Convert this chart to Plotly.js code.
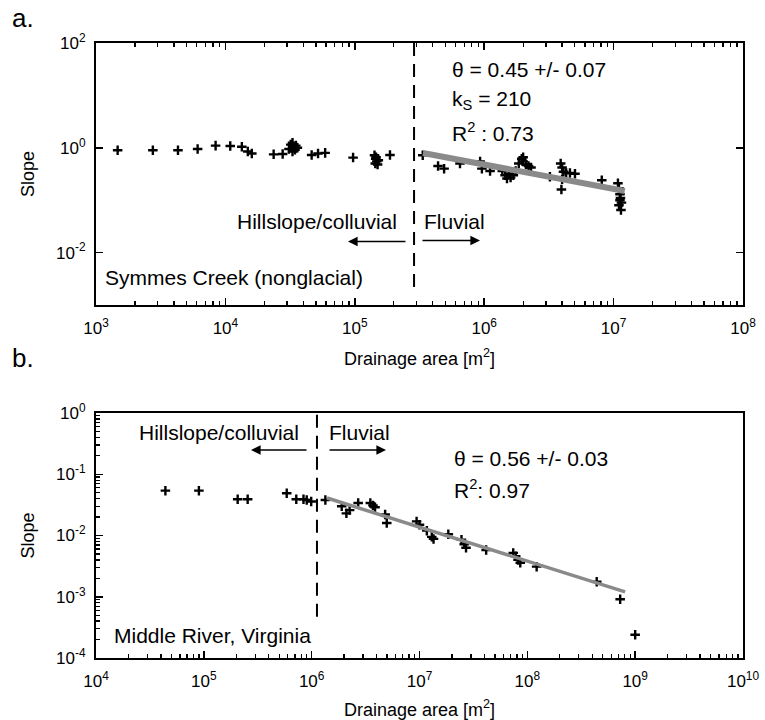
<!DOCTYPE html>
<html>
<head>
<meta charset="utf-8">
<script src="https://cdn.plot.ly/plotly-3.0.1.min.js"></script>
<style>html,body{margin:0;padding:0;background:#fff;}#chart{width:765px;height:720px;}</style>
</head>
<body>
<div id="chart"></div>
<script>
// ---- Panel a: Symmes Creek (nonglacial) ----
const symmesArea = [
  1.47e3, 2.75e3, 4.3e3, 6.1e3, 8.4e3, 1.09e4, 1.34e4, 1.49e4, 1.6e4, 2.36e4, 2.77e4,
  3.1e4, 3.2e4, 3.3e4, 3.35e4, 3.45e4, 3.5e4, 3.6e4, 3.3e4,
  4.64e4, 5.2e4, 5.9e4, 9.7e4,
  1.42e5, 1.45e5, 1.48e5, 1.5e5, 1.46e5, 1.52e5, 1.44e5, 1.87e5,
  3.35e5, 4.4e5, 4.9e5, 6.5e5, 9.3e5, 9.6e5, 1.11e6,
  1.38e6, 1.45e6, 1.5e6, 1.55e6, 1.6e6, 1.68e6, 1.75e6,
  1.85e6, 1.95e6, 2.0e6, 2.1e6, 2.2e6, 2.3e6, 2.0e6,
  3.22e6, 3.9e6, 4.0e6, 4.1e6, 4.0e6, 3.95e6, 4.3e6, 4.6e6, 5.03e6, 8.1e6,
  1.08e7, 1.1e7, 1.12e7, 1.13e7, 1.15e7, 1.1e7, 1.14e7, 1.12e7
];
const symmesSlope = [
  0.90, 0.90, 0.90, 0.95, 1.10, 1.08, 1.05, 0.85, 0.78, 0.75, 0.76,
  0.95, 1.15, 1.25, 1.05, 0.92, 1.10, 1.00, 0.85,
  0.73, 0.78, 0.80, 0.65,
  0.72, 0.62, 0.55, 0.48, 0.66, 0.58, 0.50, 0.73,
  0.72, 0.45, 0.40, 0.50, 0.55, 0.40, 0.36,
  0.36, 0.30, 0.26, 0.32, 0.27, 0.30, 0.36,
  0.50, 0.62, 0.55, 0.48, 0.45, 0.42, 0.66,
  0.28, 0.50, 0.42, 0.35, 0.25, 0.16, 0.33, 0.33, 0.32, 0.24,
  0.21, 0.17, 0.13, 0.11, 0.09, 0.08, 0.065, 0.10
];
const symmesFitArea = [3.36e5, 1.22e7];
const symmesFitSlope = [0.796, 0.15];
const symmesBreakArea = [2.87e5, 2.87e5];
const symmesBreakSlope = [0.0022, 100];

// ---- Panel b: Middle River, Virginia ----
const middleArea = [
  4.4e4, 9.0e4, 2.06e5, 2.55e5, 5.87e5, 7.2e5, 8.4e5, 9.0e5, 9.9e5,
  1.34e6, 1.9e6, 2.1e6, 2.25e6, 2.7e6, 3.5e6, 3.7e6, 3.87e6, 4.8e6, 4.97e6,
  9.4e6, 1.0e7, 1.17e7, 1.3e7, 1.35e7, 1.85e7, 2.45e7, 2.6e7, 2.7e7, 4.15e7,
  7.4e7, 7.8e7, 8.2e7, 8.6e7, 1.22e8, 4.4e8, 7.26e8, 1.0e9
];
const middleSlope = [
  0.054, 0.054, 0.039, 0.039, 0.049, 0.039, 0.039, 0.038, 0.036,
  0.038, 0.030, 0.023, 0.026, 0.034, 0.034, 0.031, 0.029, 0.022, 0.016,
  0.017, 0.015, 0.012, 0.0095, 0.0088, 0.0105, 0.0085, 0.0072, 0.0063, 0.0058,
  0.0052, 0.0046, 0.0040, 0.0036, 0.0031, 0.00176, 0.00091, 0.00024
];
const middleFitArea = [1.39e6, 8.07e8];
const middleFitSlope = [0.0409, 0.0012];
const middleBreakArea = [1.12e6, 1.12e6];
const middleBreakSlope = [0.00047, 1];

// ---- Tick labels ----
const xTicksA = [1e3, 1e4, 1e5, 1e6, 1e7, 1e8];
const xTextA = ['10<sup>3</sup>', '10<sup>4</sup>', '10<sup>5</sup>', '10<sup>6</sup>', '10<sup>7</sup>', '10<sup>8</sup>'];
const yTicksA = [1e-2, 1, 1e2];
const yTextA = ['10<sup>-2</sup>', '10<sup>0</sup>', '10<sup>2</sup>'];
const xTicksB = [1e4, 1e5, 1e6, 1e7, 1e8, 1e9, 1e10];
const xTextB = ['10<sup>4</sup>', '10<sup>5</sup>', '10<sup>6</sup>', '10<sup>7</sup>', '10<sup>8</sup>', '10<sup>9</sup>', '10<sup>10</sup>'];
const yTicksB = [1e-4, 1e-3, 1e-2, 1e-1, 1];
const yTextB = ['10<sup>-4</sup>', '10<sup>-3</sup>', '10<sup>-2</sup>', '10<sup>-1</sup>', '10<sup>0</sup>'];

function minorVals(e0, e1) {
  const v = [];
  for (let e = e0; e < e1; e++) for (let d = 2; d <= 9; d++) v.push(d * Math.pow(10, e));
  return v;
}

const FONT = 'Liberation Sans, Arial, Helvetica, sans-serif';
const W = 765, H = 720;
const px = x => x / W;
const py = y => 1 - y / H;

const markerStyle = {symbol: 'cross-thin', size: 6.8, color: '#000', line: {width: 2.4, color: '#000'}};

const traces = [
  {x: symmesArea, y: symmesSlope, xaxis: 'x', yaxis: 'y', mode: 'markers', type: 'scatter', marker: markerStyle, showlegend: false, hoverinfo: 'skip'},
  {x: symmesFitArea, y: symmesFitSlope, xaxis: 'x', yaxis: 'y', mode: 'lines', type: 'scatter', line: {color: '#8a8a8a', width: 6}, showlegend: false},
  {x: symmesBreakArea, y: symmesBreakSlope, xaxis: 'x', yaxis: 'y', mode: 'lines', type: 'scatter', line: {color: '#000', width: 2, dash: '13px,8px'}, showlegend: false},
  {x: middleArea, y: middleSlope, xaxis: 'x2', yaxis: 'y2', mode: 'markers', type: 'scatter', marker: markerStyle, showlegend: false, hoverinfo: 'skip'},
  {x: middleFitArea, y: middleFitSlope, xaxis: 'x2', yaxis: 'y2', mode: 'lines', type: 'scatter', line: {color: '#8a8a8a', width: 3.5}, showlegend: false},
  {x: middleBreakArea, y: middleBreakSlope, xaxis: 'x2', yaxis: 'y2', mode: 'lines', type: 'scatter', line: {color: '#000', width: 2, dash: '13px,8px'}, showlegend: false}
];

const tickFont = {family: FONT, size: 17, color: '#000'};
const titleFont = {family: FONT, size: 18, color: '#000'};
const baseAxis = {
  type: 'log', showgrid: false, zeroline: false, showline: true, linecolor: '#000', linewidth: 2,
  ticks: 'inside', ticklen: 7, tickwidth: 1.5, tickcolor: '#000', tickmode: 'array',
  tickfont: tickFont, automargin: false, fixedrange: true
};
const minorStyle = {ticks: 'inside', ticklen: 4, tickwidth: 1.3, tickcolor: '#000', tickmode: 'array', showgrid: false};

const xDom = [px(96), px(743)];

const layout = {
  width: W, height: H,
  margin: {l: 0, r: 0, t: 0, b: 0},
  paper_bgcolor: '#fff', plot_bgcolor: '#fff',
  font: {family: FONT, color: '#000'},
  showlegend: false,
  xaxis: Object.assign({}, baseAxis, {
    domain: xDom, anchor: 'y', range: [3, 8], tickvals: xTicksA, ticktext: xTextA, mirror: 'ticks',
    ticklabelstandoff: 7,
    minor: Object.assign({}, minorStyle, {tickvals: minorVals(3, 8)}),
    title: {text: 'Drainage area [m<sup>2</sup>]', font: titleFont, standoff: 15}
  }),
  yaxis: Object.assign({}, baseAxis, {
    domain: [py(305), py(43)], anchor: 'x', range: [-3, 2], tickvals: yTicksA, ticktext: yTextA, mirror: 'ticks',
    ticklabelstandoff: 5,
    title: {text: 'Slope', font: titleFont, standoff: 17}
  }),
  xaxis2: Object.assign({}, baseAxis, {
    domain: xDom, anchor: 'y2', range: [4, 10], tickvals: xTicksB, ticktext: xTextB, mirror: true,
    ticklabelstandoff: 7,
    minor: Object.assign({}, minorStyle, {tickvals: minorVals(4, 10)}),
    title: {text: 'Drainage area [m<sup>2</sup>]', font: titleFont, standoff: 15}
  }),
  yaxis2: Object.assign({}, baseAxis, {
    domain: [py(658), py(413)], anchor: 'x2', range: [-4, 0], tickvals: yTicksB, ticktext: yTextB, mirror: true,
    ticklabelstandoff: 5,
    minor: Object.assign({}, minorStyle, {tickvals: minorVals(-4, 0)}),
    title: {text: 'Slope', font: titleFont, standoff: 17}
  }),
  annotations: []
};

function txt(text, x, y, size, anchor) {
  layout.annotations.push({text: text, xref: 'paper', yref: 'paper', x: px(x), y: py(y),
    xanchor: anchor || 'left', yanchor: 'middle', showarrow: false,
    font: {family: FONT, size: size, color: '#000'}});
}
function arrow(xHead, xTail, y) {
  layout.annotations.push({text: '', xref: 'paper', yref: 'paper', x: px(xHead), y: py(y),
    axref: 'pixel', ayref: 'pixel', ax: xTail - xHead, ay: 0, showarrow: true,
    arrowhead: 2, arrowsize: 1.2, arrowwidth: 1.6, arrowcolor: '#000'});
}

// Panel a annotations
txt('a.', 10, 18, 26);
txt('θ = 0.45 +/- 0.07', 450, 70, 21);
txt('k<sub>S</sub> = 210', 450, 100, 21);
txt('R<sup>2</sup> : 0.73', 450, 132, 21);
txt('Hillslope/colluvial', 235, 221.5, 21);
txt('Fluvial', 422, 221.5, 21);
txt('Symmes Creek (nonglacial)', 103, 277.5, 21);
arrow(348, 407, 241.5);
arrow(480, 421, 240.5);

// Panel b annotations
txt('b.', 10, 358, 26);
txt('Hillslope/colluvial', 137, 432.5, 21);
txt('Fluvial', 327, 432.5, 21);
txt('θ = 0.56 +/- 0.03', 452, 458.5, 21);
txt('R<sup>2</sup>: 0.97', 452, 489, 21);
txt('Middle River, Virginia', 112, 635.5, 21);
arrow(251, 308, 450);
arrow(386, 328, 450);

Plotly.newPlot('chart', traces, layout, {staticPlot: true, displayModeBar: false});
</script>
</body>
</html>
